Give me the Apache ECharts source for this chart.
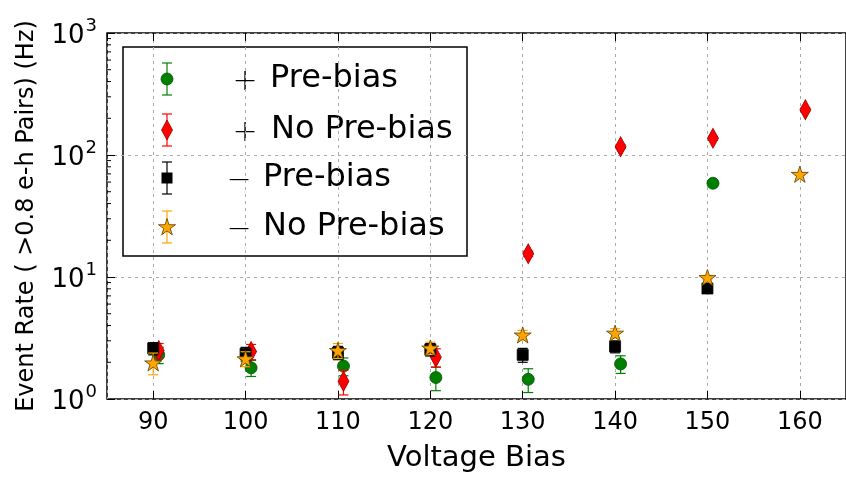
<!DOCTYPE html>
<html>
<head>
<meta charset="utf-8">
<script src="https://cdn.jsdelivr.net/npm/echarts@6/dist/echarts.min.js"></script>
<style>html,body{margin:0;padding:0;background:#fff}#c{width:846px;height:478px}</style>
</head>
<body>
<div id="c"></div>
<script>
// ---- data ----
const voltages = [90, 100, 110, 120, 130, 140, 150, 160];
const plusPre      = [2.30, 1.80, 1.86, 1.50, 1.45, 1.94, 58.7, null];
const plusPreErr   = [0.35, 0.27, 0.31, 0.33, 0.32, 0.32, 1.5, null];
const plusNoPre    = [2.50, 2.45, 1.40, 2.20, 15.5, 117, 137, 235];
const plusNoPreErr = [0.35, 0.35, 0.32, 0.38, 0.8, 4, 5, 7];
const minusPre     = [2.60, 2.35, 2.40, 2.55, 2.30, 2.69, 8.05, null];
const minusPreErr  = [0.30, 0.30, 0.30, 0.30, 0.30, 0.30, 0.4, null];
const minusNoPre   = [1.98, 2.14, 2.50, 2.62, 3.35, 3.47, 9.9, 69.5];
const minusNoPreErr= [0.40, 0.30, 0.35, 0.30, 0.30, 0.30, 0.4, 1.5];
const seriesNames = ['+ Pre-bias', '+ No Pre-bias', '\u2212 Pre-bias', '\u2212 No Pre-bias'];
const yTickExps = [0, 1, 2, 3];
const minorTickValues = [2,3,4,5,6,7,8,9,20,30,40,50,60,70,80,90,200,300,400,500,600,700,800,900];

// ---- styling ----
const plusShift = 0.6;
const STAR = 'path://M50 0 L61.23 34.55 L97.55 34.55 L68.16 55.9 L79.39 90.45 L50 69.1 L20.61 90.45 L31.84 55.9 L2.45 34.55 L38.77 34.55 Z';
const defs = [
  {vals: plusPre, errs: plusPreErr, shift: plusShift, color: '#008000', edge: '#005000', symbol: 'circle', size: 12},
  {vals: plusNoPre, errs: plusNoPreErr, shift: plusShift, color: '#ff0000', edge: '#a00000', symbol: 'diamond', size: [11, 20]},
  {vals: minusPre, errs: minusPreErr, shift: 0, color: '#000000', edge: '#000000', symbol: 'rect', size: 11},
  {vals: minusNoPre, errs: minusNoPreErr, shift: 0, color: '#ffa500', edge: '#5a3c00', symbol: STAR, size: 17}
];
const XMIN = 85, XMAX = 165;

function starPoints(cx, cy, R) {
  const pts = [];
  const r = R * 0.382;
  for (let i = 0; i < 10; i++) {
    const a = -Math.PI / 2 + i * Math.PI / 5;
    const rr = i % 2 === 0 ? R : r;
    pts.push([cx + rr * Math.cos(a), cy + rr * Math.sin(a)]);
  }
  return pts;
}

const series = [];
defs.forEach((d, k) => {
  const pts = [], bars = [];
  d.vals.forEach((v, i) => {
    if (v == null) return;
    const x = voltages[i] + d.shift;
    pts.push([x, v]);
    bars.push([x, v - d.errs[i], v + d.errs[i]]);
  });
  series.push({
    type: 'custom', name: seriesNames[k] + ' err', z: 3 + k * 2, clip: false, silent: true,
    data: bars, encode: {x: 0, y: [1, 2]},
    renderItem: (params, api) => {
      const x = api.value(0);
      const p1 = api.coord([x, api.value(2)]), p2 = api.coord([x, api.value(1)]);
      const st = {stroke: d.color, lineWidth: 1.2};
      const cw = 5;
      return {type: 'group', children: [
        {type: 'line', shape: {x1: p1[0], y1: p1[1], x2: p2[0], y2: p2[1]}, style: st},
        {type: 'line', shape: {x1: p1[0] - cw, y1: p1[1], x2: p1[0] + cw, y2: p1[1]}, style: st},
        {type: 'line', shape: {x1: p2[0] - cw, y1: p2[1], x2: p2[0] + cw, y2: p2[1]}, style: st}
      ]};
    }
  });
  series.push({
    type: 'scatter', name: seriesNames[k], z: 4 + k * 2, data: pts,
    symbol: d.symbol, symbolSize: d.size, symbolKeepAspect: true, silent: true,
    itemStyle: {color: d.color, borderColor: d.edge, borderWidth: 0.8, opacity: 1}
  });
});

// minor ticks on log axis (left spine)
series.push({
  type: 'custom', z: 2, silent: true, clip: false,
  data: minorTickValues.map(v => [XMIN, v]),
  encode: {x: 0, y: 1},
  renderItem: (params, api) => {
    const p = api.coord([XMIN, api.value(1)]);
    return {type: 'line', shape: {x1: p[0], y1: p[1], x2: p[0] + 4, y2: p[1]}, style: {stroke: '#000', lineWidth: 1}};
  }
});

// ---- legend as graphics ----
const lgX = 123, lgY = 47, lgW = 344, lgH = 209;
const rowY = [79, 130, 178, 227];
const symX = 167;
const signX = [245, 245, 239, 239];
const signText = ['+', '+', '\u2212', '\u2212'];
const labelText = ['Pre-bias', 'No Pre-bias', 'Pre-bias', 'No Pre-bias'];
const labelX = [270, 271, 263, 263];
const legendChildren = [
  {type: 'rect', shape: {x: lgX, y: lgY, width: lgW, height: lgH}, style: {fill: '#fff', stroke: '#000', lineWidth: 1.5}}
];
defs.forEach((d, k) => {
  const y = rowY[k];
  const st = {stroke: d.color, lineWidth: 1.2};
  legendChildren.push({type: 'line', shape: {x1: symX, y1: y - 16, x2: symX, y2: y + 16}, style: st});
  legendChildren.push({type: 'line', shape: {x1: symX - 5, y1: y - 16, x2: symX + 5, y2: y - 16}, style: st});
  legendChildren.push({type: 'line', shape: {x1: symX - 5, y1: y + 16, x2: symX + 5, y2: y + 16}, style: st});
  let shape;
  if (k === 0) shape = {type: 'circle', shape: {cx: symX, cy: y, r: 6}, style: {fill: d.color, stroke: d.edge, lineWidth: 0.8}};
  else if (k === 1) shape = {type: 'polygon', shape: {points: [[symX, y - 10], [symX + 5.5, y], [symX, y + 10], [symX - 5.5, y]]}, style: {fill: d.color, stroke: d.edge, lineWidth: 0.8}};
  else if (k === 2) shape = {type: 'rect', shape: {x: symX - 5.5, y: y - 5.5, width: 11, height: 11}, style: {fill: d.color}};
  else shape = {type: 'polygon', shape: {points: starPoints(symX, y + 0.5, 9)}, style: {fill: d.color, stroke: d.edge, lineWidth: 0.8}};
  legendChildren.push(shape);
  legendChildren.push({type: 'text', x: signX[k], y: y + 3, style: {text: signText[k], fill: '#000', font: '200 30px "DejaVu Sans"', align: 'center', verticalAlign: 'middle'}});
  legendChildren.push({type: 'text', x: labelX[k], y: y, style: {text: labelText[k], fill: '#000', font: '32px "DejaVu Sans"', align: 'left', verticalAlign: 'middle'}});
});

const chart = echarts.init(document.getElementById('c'), null, {renderer: 'canvas'});
chart.setOption({
  animation: false,
  backgroundColor: '#fff',
  grid: {left: 107, right: -7, top: 33, bottom: 73, show: true, borderColor: '#000', borderWidth: 1.5, backgroundColor: 'transparent'},
  xAxis: [{
    type: 'value', min: XMIN, max: XMAX, splitNumber: 8, minInterval: 10, maxInterval: 10,
    name: 'Voltage Bias', nameLocation: 'middle', nameGap: 45,
    nameTextStyle: {fontFamily: 'DejaVu Sans', fontSize: 29, color: '#000'},
    axisLine: {show: false},
    axisTick: {show: true, inside: true, length: 8, lineStyle: {color: '#000', width: 1}},
    axisLabel: {fontFamily: 'DejaVu Sans', fontSize: 24, color: '#000', margin: 12, showMinLabel: false, showMaxLabel: false},
    splitLine: {show: true, lineStyle: {color: '#aaaaaa', width: 1, type: [3, 4]}}
  }, {
    type: 'value', position: 'top', min: XMIN, max: XMAX, splitNumber: 8, minInterval: 10, maxInterval: 10,
    axisLine: {show: false},
    axisTick: {show: true, inside: true, length: 8, lineStyle: {color: '#000', width: 1}},
    axisLabel: {show: false}, splitLine: {show: false}
  }],
  yAxis: {
    type: 'log', logBase: 10, min: 1, max: 1000, splitNumber: 3,
    name: 'Event Rate ( >0.8 e-h Pairs) (Hz)', nameLocation: 'middle', nameGap: 68, nameRotate: 90,
    nameTextStyle: {fontFamily: 'DejaVu Sans', fontSize: 24, color: '#000'},
    axisLine: {show: false},
    axisTick: {show: true, inside: true, length: 8, lineStyle: {color: '#000', width: 1}},
    axisLabel: {
      margin: 10, color: '#000',
      formatter: v => {
        const e = Math.round(Math.log10(v));
        return yTickExps.indexOf(e) >= 0 ? '{b|10}{s|' + e + '}' : '';
      },
      rich: {
        b: {fontFamily: 'DejaVu Sans', fontSize: 26, color: '#000', verticalAlign: 'bottom'},
        s: {fontFamily: 'DejaVu Sans', fontSize: 18, color: '#000', verticalAlign: 'top', padding: [0, 0, 14, 1]}
      }
    },
    splitLine: {show: true, lineStyle: {color: '#aaaaaa', width: 1, type: [3, 4]}}
  },
  series: series,
  graphic: [{type: 'group', z: 100, children: legendChildren}]
});
</script>
</body>
</html>
